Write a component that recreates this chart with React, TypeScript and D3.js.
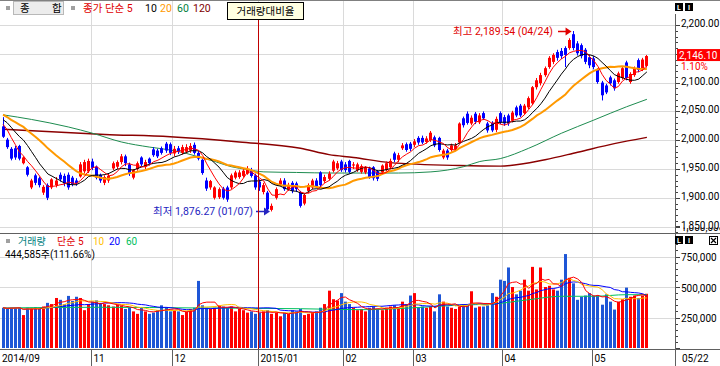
import React from 'react';
import * as d3 from 'd3';

// daily bars, 2014/09/30 .. 2015/05/22
const dates = [
  '09/30',
  '10/01', '10/02', '10/06', '10/07', '10/08', '10/10', '10/13', '10/14', '10/15', '10/16', '10/17',
  '10/20', '10/21', '10/22', '10/23', '10/24', '10/27', '10/28', '10/29', '10/30', '10/31',
  '11/03', '11/04', '11/05', '11/06', '11/07', '11/10', '11/11', '11/12', '11/13', '11/14',
  '11/17', '11/18', '11/19', '11/20', '11/21', '11/24', '11/25', '11/26', '11/27', '11/28',
  '12/01', '12/02', '12/03', '12/04', '12/05', '12/08', '12/09', '12/10', '12/11', '12/12',
  '12/15', '12/16', '12/17', '12/18', '12/19', '12/22', '12/23', '12/24', '12/26', '12/29', '12/30',
  '01/02', '01/05', '01/06', '01/07', '01/08', '01/09', '01/12', '01/13', '01/14', '01/15', '01/16',
  '01/19', '01/20', '01/21', '01/22', '01/23', '01/26', '01/27', '01/28', '01/29', '01/30',
  '02/02', '02/03', '02/04', '02/05', '02/06', '02/09', '02/10', '02/11', '02/12', '02/13',
  '02/16', '02/17', '02/23', '02/24', '02/25', '02/26', '02/27',
  '03/02', '03/03', '03/04', '03/05', '03/06', '03/09', '03/10', '03/11', '03/12', '03/13',
  '03/16', '03/17', '03/18', '03/19', '03/20', '03/23', '03/24', '03/25', '03/26', '03/27', '03/30', '03/31',
  '04/01', '04/02', '04/03', '04/06', '04/07', '04/08', '04/09', '04/10', '04/13', '04/14',
  '04/15', '04/16', '04/17', '04/20', '04/21', '04/22', '04/23', '04/24', '04/27', '04/28', '04/29', '04/30',
  '05/04', '05/06', '05/07', '05/08', '05/11', '05/12', '05/13', '05/14', '05/15', '05/18',
  '05/19', '05/20', '05/21', '05/22',
];

const opens = [
  2024,
  2001, 1985, 1986, 1990, 1960, 1953, 1918, 1939, 1934, 1909, 1922, 1918, 1922, 1940, 1938, 1940, 1935, 1930, 1937, 1946, 1946,
  1963, 1954, 1940, 1926, 1930, 1951, 1954, 1962, 1972, 1958, 1935, 1950, 1970, 1954, 1968, 1984, 1982, 1986, 1994, 1993,
  1977, 1986, 1978, 1980, 1982, 1992, 1978, 1966, 1930, 1918, 1900, 1901, 1916, 1918, 1918, 1935, 1936, 1938, 1942, 1948, 1939,
  1928, 1910, 1909, 1879, 1900, 1923, 1930, 1915, 1926, 1925, 1910, 1890, 1912, 1918, 1930, 1944, 1929, 1933, 1947, 1951, 1963,
  1958, 1964, 1956, 1948, 1945, 1944, 1951, 1953, 1946, 1944, 1948, 1953, 1977, 1966, 1986, 1993, 1994,
  1992, 2004, 2004, 1997, 2000, 2005, 2004, 1970, 1982, 1983, 1984, 1996, 2038, 2046, 2029, 2046, 2031, 2047, 2029, 2030, 2018, 2047,
  2040, 2043, 2034, 2057, 2060, 2047, 2057, 2064, 2092, 2099, 2113, 2127, 2136, 2153, 2155, 2160, 2160, 2184, 2168, 2165, 2157, 2144,
  2142, 2122, 2100, 2095, 2109, 2104, 2101, 2108, 2135, 2101, 2113, 2139, 2123, 2129,
];

const highs = [
  2040,
  2004, 1988, 1990, 1992, 1972, 1955, 1933, 1942, 1937, 1922, 1925, 1934, 1936, 1944, 1942, 1944, 1938, 1934, 1962, 1966, 1968,
  1968, 1956, 1942, 1939, 1942, 1963, 1965, 1976, 1975, 1961, 1950, 1963, 1972, 1966, 1970, 1988, 1985, 1989, 1997, 1996,
  1990, 1990, 1992, 1993, 1995, 1996, 1981, 1968, 1935, 1931, 1920, 1918, 1919, 1921, 1942, 1947, 1948, 1951, 1955, 1952, 1942,
  1932, 1926, 1912, 1890, 1918, 1934, 1934, 1926, 1929, 1928, 1912, 1908, 1925, 1933, 1934, 1946, 1940, 1946, 1966, 1964, 1966,
  1962, 1966, 1962, 1961, 1958, 1955, 1954, 1955, 1948, 1958, 1963, 1968, 1980, 1978, 1995, 1996, 1997,
  2002, 2007, 2008, 2007, 2016, 2008, 2006, 1985, 1985, 1994, 1995, 2031, 2041, 2050, 2043, 2049, 2047, 2050, 2032, 2033, 2041, 2050,
  2044, 2046, 2051, 2060, 2063, 2063, 2076, 2094, 2108, 2117, 2128, 2146, 2151, 2157, 2160, 2163, 2177, 2189.54, 2172, 2168, 2160, 2148,
  2146, 2125, 2103, 2098, 2112, 2107, 2119, 2128, 2138, 2118, 2128, 2142, 2143, 2148,
];

const lows = [
  2004,
  1985, 1965, 1966, 1965, 1958, 1937, 1915, 1922, 1918, 1905, 1896, 1915, 1918, 1928, 1920, 1914, 1920, 1921, 1935, 1942, 1943,
  1948, 1932, 1926, 1922, 1926, 1948, 1950, 1958, 1955, 1938, 1932, 1947, 1954, 1950, 1956, 1971, 1969, 1975, 1978, 1974,
  1972, 1976, 1975, 1977, 1978, 1975, 1965, 1940, 1912, 1914, 1897, 1898, 1897, 1893, 1915, 1932, 1933, 1935, 1940, 1935, 1914,
  1912, 1906, 1878, 1876.27, 1897, 1920, 1912, 1912, 1908, 1910, 1883, 1887, 1908, 1915, 1917, 1918, 1926, 1930, 1944, 1948, 1945,
  1944, 1942, 1950, 1945, 1942, 1941, 1933, 1930, 1929, 1940, 1946, 1950, 1962, 1962, 1983, 1980, 1981,
  1988, 1992, 1993, 1994, 1997, 1988, 1980, 1967, 1966, 1980, 1981, 1994, 2022, 2027, 2026, 2028, 2028, 2035, 2013, 2014, 2014, 2028,
  2025, 2025, 2031, 2040, 2040, 2044, 2054, 2061, 2088, 2095, 2110, 2124, 2132, 2138, 2141, 2127, 2157, 2156, 2147, 2142, 2132, 2125,
  2123, 2098, 2069, 2080, 2095, 2086, 2098, 2105, 2104, 2098, 2110, 2118, 2120, 2126,
];

const closes = [
  2006,
  1988, 1968, 1970, 1968, 1970, 1940, 1930, 1926, 1922, 1919, 1900, 1932, 1930, 1932, 1925, 1918, 1924, 1925, 1958, 1962, 1964,
  1952, 1935, 1930, 1936, 1938, 1960, 1962, 1972, 1960, 1942, 1948, 1960, 1958, 1962, 1960, 1974, 1972, 1978, 1982, 1978,
  1985, 1980, 1988, 1988, 1990, 1978, 1968, 1943, 1916, 1929, 1918, 1915, 1900, 1897, 1939, 1944, 1944, 1947, 1950, 1938, 1918,
  1918, 1922, 1880, 1886, 1915, 1930, 1915, 1922, 1912, 1915, 1886, 1905, 1922, 1930, 1920, 1922, 1936, 1942, 1963, 1960, 1948,
  1948, 1945, 1958, 1958, 1955, 1952, 1936, 1934, 1933, 1956, 1960, 1964, 1966, 1974, 1991, 1983, 1985,
  1998, 1996, 1996, 2003, 2013, 1991, 1983, 1982, 1970, 1991, 1991, 2029, 2026, 2030, 2039, 2032, 2043, 2038, 2017, 2017, 2037, 2031,
  2029, 2029, 2048, 2043, 2043, 2060, 2073, 2092, 2104, 2113, 2125, 2143, 2148, 2143, 2146, 2148, 2174, 2160, 2151, 2146, 2136, 2130,
  2127, 2101, 2078, 2083, 2099, 2090, 2116, 2125, 2108, 2115, 2125, 2122, 2140, 2146.1,
];

const volumes = [
  330000,
  320000, 330000, 330000, 335000, 270000, 330000, 330000, 335000, 330000, 340000, 370000,
  360000, 410000, 395000, 360000, 427000, 385000, 420000, 410000, 310000, 360000,
  380000, 390000, 370000, 360000, 350000, 340000, 355000, 345000, 320000, 330000,
  300000, 280000, 330000, 300000, 280000, 290000, 310000, 350000, 330000, 300000,
  310000, 300000, 270000, 300000, 320000, 330000, 550000, 350000, 330000, 320000,
  330000, 350000, 340000, 330000, 340000, 300000, 320000, 310000, 290000, 300000, 280000,
  290000, 300000, 310000, 280000, 290000, 260000, 290000, 280000, 310000, 300000, 320000,
  270000, 280000, 290000, 300000, 330000, 360000, 470000, 400000, 390000, 450000,
  380000, 360000, 330000, 310000, 320000, 300000, 330000, 340000, 320000, 310000,
  330000, 340000, 350000, 330000, 380000, 360000, 430000,
  450000, 330000, 340000, 330000, 340000, 300000, 440000, 380000, 340000, 330000,
  320000, 340000, 360000, 350000, 465000, 330000, 340000, 340000, 350000, 450000, 420000, 560000,
  550000, 660000, 500000, 440000, 470000, 560000, 470000, 665000, 480000, 660000,
  500000, 510000, 480000, 470000, 560000, 770000, 575000, 530000, 395000, 420000, 430000, 450000,
  430000, 430000, 355000, 440000, 380000, 315000, 380000, 400000, 495000, 420000,
  430000, 410000, 430000, 444585,
];

// closes before the first visible bar (for MA 5/10/20)
const priorCloses = [2068, 2067, 2051, 2050, 2052, 2062, 2046, 2039, 2045, 2049, 2040, 2047, 2053, 2045, 2033, 2034, 2036, 2031, 2031];

// long averages
const ma60Dates = ['09/30', '10/13', '10/24', '11/03', '11/12', '11/21', '11/28', '12/04', '12/09', '12/15', '12/19', '12/26', '01/05', '01/15', '01/28', '02/24', '03/06', '03/18', '03/24', '03/31', '04/09', '04/21', '05/04', '05/15', '05/22'];
const ma60Values = [2044, 2036, 2023, 2012, 1997, 1988, 1983, 1977, 1971, 1963, 1954, 1949, 1945, 1944, 1943, 1943, 1945, 1954, 1963, 1968, 1986, 2012, 2035, 2058, 2071];
const ma120Dates = ['09/30', '11/06', '11/28', '12/23', '01/16', '01/27', '02/04', '02/17', '03/17', '03/31', '04/15', '04/27', '05/12', '05/22'];
const ma120Values = [2019, 2010, 2006, 1997, 1986, 1975, 1970, 1961, 1956, 1955, 1966, 1979, 1994, 2005];
const volMa60Dates = ['09/30', '11/05', '12/09', '01/16', '02/06', '02/27', '03/17', '03/27', '04/09', '04/21', '05/04', '05/15', '05/22'];
const volMa60Values = [328000, 334000, 328000, 322000, 314000, 328000, 352000, 360000, 396000, 424000, 424000, 437000, 437000];

const monthTickDates = ['09/30', '11/03', '12/01', '01/02', '02/02', '03/02', '04/01', '05/04'];
const monthTickLabels = ['2014/09', '11', '12', '2015/01', '02', '03', '04', '05'];
const priceTicks = [1850, 1900, 1950, 2000, 2050, 2100, 2150, 2200];
const volumeTicks = [250000, 500000, 750000, 1000000];

const FONT = "Roboto, 'Noto Sans CJK KR', sans-serif";
const UP = '#FF0000';
const DOWN = '#0000FF';
const VOL_DOWN = '#1E56D6';
const GRID = '#DADADA';
const AXIS_X = 675;

function movingAvg(vals: number[], n: number, prior: number[] = []) {
  const all = prior.concat(vals);
  return vals.map((_, i) => {
    const end = prior.length + i + 1;
    return d3.mean(all.slice(Math.max(0, end - n), end)) as number;
  });
}

const App: React.FC = () => {
  const step = 4.075;
  const x = d3.scaleBand<string>().domain(dates).range([1, 1 + dates.length * step]);
  const cx = (d: string) => (x(d) ?? 0) + step / 2;
  const yP = d3.scaleLinear().domain([1850, 2200]).range([226.6, 25]);
  const yV = d3.scaleLinear().domain([0, 1000000]).range([348, 226]);

  const priceLine = d3.line<number>().x((_, i) => cx(dates[i])).y((v) => yP(v));
  const volLine = d3.line<number>().x((_, i) => cx(dates[i])).y((v) => yV(v));
  const sampled = (ds: string[], scale: (v: number) => number) =>
    d3.line<number>().x((_, i) => cx(ds[i])).y((v) => scale(v)).curve(d3.curveMonotoneX);

  const ma5 = movingAvg(closes, 5, priorCloses);
  const ma10 = movingAvg(closes, 10, priorCloses);
  const ma20 = movingAvg(closes, 20, priorCloses);
  const vma5 = movingAvg(volumes, 5);
  const vma10 = movingAvg(volumes, 10);
  const vma20 = movingAvg(volumes, 20);

  const last = closes[closes.length - 1];
  const boxY = yP(last) - 1;
  const hiIdx = d3.maxIndex(highs);
  const loIdx = d3.minIndex(lows);
  const fmt2 = d3.format(',.2f');
  const cursorX = x('01/02') ?? 0;

  const minorPrice = d3.range(1850, 2201, 10);
  const minorVol = d3.range(0, 1000001, 50000);

  return (
    <div style={{ position: 'absolute', left: 0, top: 0 }}>
      <svg width={720} height={366} style={{ display: 'block', background: '#fff' }} fontFamily={FONT}>
        <defs>
          <clipPath id="volAxisClip">
            <rect x={AXIS_X} y={227.5} width={45} height={121} />
          </clipPath>
        </defs>

        {/* grid */}
        {priceTicks.map((t) => (
          <line key={'hp' + t} x1={0} x2={AXIS_X} y1={Math.round(yP(t)) + 0.5} y2={Math.round(yP(t)) + 0.5} stroke={GRID} />
        ))}
        {volumeTicks.slice(0, 3).map((t) => (
          <line key={'hv' + t} x1={0} x2={AXIS_X} y1={Math.round(yV(t)) + 0.5} y2={Math.round(yV(t)) + 0.5} stroke={GRID} />
        ))}
        {monthTickDates.slice(1).map((d) => {
          const gx = Math.round(x(d) ?? 0) + 0.5;
          return <line key={'vg' + d} x1={gx} x2={gx} y1={1} y2={348} stroke={GRID} />;
        })}

        {/* long moving averages */}
        <path d={sampled(ma120Dates, yP)(ma120Values) ?? ''} fill="none" stroke="#8B0000" strokeWidth={1.4} />
        <path d={sampled(ma60Dates, yP)(ma60Values) ?? ''} fill="none" stroke="#1E8C50" strokeWidth={1} />

        {/* candles */}
        {dates.map((d, i) => {
          const up = closes[i] >= opens[i];
          const col = up ? UP : DOWN;
          const bx = Math.round(cx(d) - 1.5);
          const top = yP(Math.max(opens[i], closes[i]));
          const h = Math.max(1, Math.abs(yP(opens[i]) - yP(closes[i])));
          return (
            <g key={'c' + d}>
              <line x1={bx + 1.5} x2={bx + 1.5} y1={yP(highs[i])} y2={yP(lows[i])} stroke={col} strokeWidth={1} />
              <rect x={bx} y={top} width={3} height={h} fill={col} />
            </g>
          );
        })}

        <path d={priceLine(ma20) ?? ''} fill="none" stroke="#FF9900" strokeWidth={2} />
        <path d={priceLine(ma10) ?? ''} fill="none" stroke="#000" strokeWidth={1} />
        <path d={priceLine(ma5) ?? ''} fill="none" stroke="#FF0000" strokeWidth={1} />

        {/* high / low marks */}
        <text x={553} y={35} fontSize={10.5} fill="#E00000" textAnchor="end">
          최고 {fmt2(highs[hiIdx])} ({dates[hiIdx]})
        </text>
        <line x1={558} x2={567} y1={31.5} y2={31.5} stroke="#E00000" strokeWidth={1.5} />
        <path d={`M${cx(dates[hiIdx]) - 2},31.5 l-6,-4 v8 z`} fill="#E00000" />
        <text x={253} y={215} fontSize={10.5} fill="#2424C0" textAnchor="end">
          최저 {fmt2(lows[loIdx])} ({dates[loIdx]})
        </text>
        <line x1={256} x2={264} y1={211.5} y2={211.5} stroke="#2424C0" strokeWidth={1.5} />
        <path d={`M${cx(dates[loIdx]) - 2},211.5 l-6,-4 v8 z`} fill="#2424C0" />

        {/* volume */}
        {dates.map((d, i) => {
          const up = closes[i] >= opens[i];
          const bx = Math.round(cx(d) - 1.5);
          return <rect key={'v' + d} x={bx} y={yV(volumes[i])} width={3} height={yV(0) - yV(volumes[i])} fill={up ? UP : VOL_DOWN} />;
        })}
        <path d={sampled(volMa60Dates, yV)(volMa60Values) ?? ''} fill="none" stroke="#00C060" strokeWidth={1} />
        <path d={volLine(vma20) ?? ''} fill="none" stroke="#0000FF" strokeWidth={1} />
        <path d={volLine(vma10) ?? ''} fill="none" stroke="#FFC000" strokeWidth={1} />
        <path d={volLine(vma5) ?? ''} fill="none" stroke="#FF0000" strokeWidth={1} />

        {/* cursor */}
        <line x1={Math.round(cursorX) + 0.5} x2={Math.round(cursorX) + 0.5} y1={20} y2={349} stroke="#C00000" strokeWidth={1} />

        {/* price axis */}
        {minorPrice.map((t) => (
          <line key={'mp' + t} x1={AXIS_X + 1} x2={AXIS_X + (t % 50 === 0 ? 5 : 3)} y1={Math.round(yP(t)) + 0.5} y2={Math.round(yP(t)) + 0.5} stroke="#404040" />
        ))}
        {priceTicks
          .filter((t) => Math.abs(yP(t) - boxY) > 9)
          .map((t) => (
            <text key={'pl' + t} x={681} y={yP(t) + 2} fontSize={10} fill="#000">
              {fmt2(t)}
            </text>
          ))}
        <rect x={677} y={boxY - 6} width={43} height={12} fill="#FF0000" />
        <text x={679} y={boxY + 4} fontSize={10} fill="#fff">
          {fmt2(last)}
        </text>
        <text x={681} y={boxY + 15} fontSize={10} fill="#FF0000">
          1.10%
        </text>

        {/* volume axis; the top label is cut by the panel edge */}
        {minorVol.map((t) => (
          <line key={'mv' + t} x1={AXIS_X + 1} x2={AXIS_X + (t % 250000 === 0 ? 5 : 3)} y1={Math.round(yV(t)) + 0.5} y2={Math.round(yV(t)) + 0.5} stroke="#404040" />
        ))}
        <g clipPath="url(#volAxisClip)">
          {volumeTicks.map((t) => (
            <text key={'vl' + t} x={681} y={yV(t) + 4.5} fontSize={10} fill="#000">
              {d3.format(',')(t)}
            </text>
          ))}
        </g>

        {/* frame */}
        <line x1={0} x2={720} y1={0.5} y2={0.5} stroke="#808080" />
        <line x1={0} x2={720} y1={233.5} y2={233.5} stroke="#606060" />
        <line x1={0} x2={720} y1={349.5} y2={349.5} stroke="#606060" />
        <line x1={AXIS_X + 0.5} x2={AXIS_X + 0.5} y1={14} y2={366} stroke="#606060" />

        {/* date axis */}
        {monthTickDates.map((d, i) => {
          const gx = Math.round(x(d) ?? 0) + 0.5;
          return (
            <g key={'xt' + d}>
              {i > 0 && <line x1={gx} x2={gx} y1={350} y2={366} stroke="#606060" />}
              <text x={i === 0 ? 2 : gx + 2} y={362} fontSize={10} fill="#000">
                {monthTickLabels[i]}
              </text>
            </g>
          );
        })}
        <text x={682} y={362} fontSize={10} fill="#000">
          {dates[dates.length - 1]}
        </text>

        {/* price legend */}
        <rect x={6} y={6} width={4} height={4} fill="#A0A0A0" />
        <rect x={13.5} y={1.5} width={50} height={13} fill="#ECECEC" stroke="#B8B8B8" />
        <text x={20} y={12} fontSize={10.5} fill="#000">종</text>
        <text x={52} y={12} fontSize={10.5} fill="#000">합</text>
        <rect x={71} y={6} width={4} height={4} fill="#A0A0A0" />
        <text x={83} y={12} fontSize={10.5} fill="#E00000">종가 단순 5</text>
        <text x={145} y={12} fontSize={10.5} fill="#000">10</text>
        <text x={160} y={12} fontSize={10.5} fill="#FF9900">20</text>
        <text x={177} y={12} fontSize={10.5} fill="#008040">60</text>
        <text x={193} y={12} fontSize={10.5} fill="#800000">120</text>

        {/* tooltip */}
        <rect x={227.5} y={2.5} width={76} height={17} fill="#FFFFE1" stroke="#000" />
        <text x={265.5} y={15} fontSize={10.5} fill="#000" textAnchor="middle">거래량대비율</text>

        {/* volume legend */}
        <rect x={6} y={239} width={4} height={4} fill="#A0A0A0" />
        <text x={18} y={244.5} fontSize={10} fill="#008080">거래량</text>
        <text x={57} y={244.5} fontSize={10} fill="#E00000">단순 5</text>
        <text x={93} y={244.5} fontSize={10} fill="#FFC000">10</text>
        <text x={109} y={244.5} fontSize={10} fill="#0000FF">20</text>
        <text x={126} y={244.5} fontSize={10} fill="#00C060">60</text>
        <text x={5} y={257.5} fontSize={10} fill="#000">
          {d3.format(',')(volumes[volumes.length - 1])}주(111.66%)
        </text>

        {/* small toolbar icons */}
        {[3, 236].map((iy) => (
          <g key={'ic' + iy}>
            <rect x={675} y={iy} width={8} height={8} fill="#000" />
            <text x={677} y={iy + 7} fontSize={7} fontWeight="bold" fill="#fff">L</text>
            <rect x={685} y={iy} width={8} height={8} fill="#000" />
            <text x={688} y={iy + 7} fontSize={7} fontWeight="bold" fill="#fff">I</text>
          </g>
        ))}
        <rect x={709.5} y={236.5} width={8} height={8} fill="#fff" stroke="#000" />
        <path d="M711,238 L716,243 M716,238 L711,243" stroke="#000" strokeWidth={1.2} />
      </svg>
    </div>
  );
};

export default App;
